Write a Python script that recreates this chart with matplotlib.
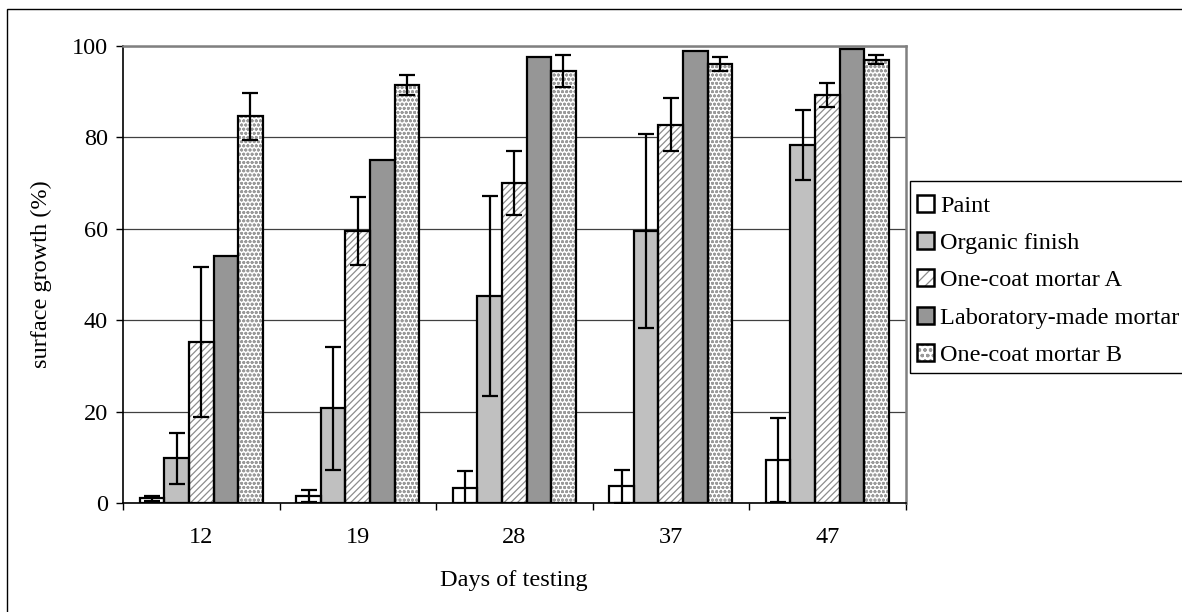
import matplotlib.pyplot as plt
import numpy as np
from matplotlib.patches import Patch, Rectangle

plt.rcParams['font.family'] = ['Liberation Serif', 'DejaVu Serif']

days = ['12', '19', '28', '37', '47']
series = ['Paint', 'Organic finish', 'One-coat mortar A',
          'Laboratory-made mortar', 'One-coat mortar B']

paint = [1.0, 1.5, 3.3, 3.7, 9.5]
paint_err = [0.5, 1.3, 3.7, 3.6, 9.2]
organic = [9.8, 20.7, 45.3, 59.5, 78.3]
organic_err = [5.6, 13.4, 21.8, 21.3, 7.7]
mortar_a = [35.2, 59.5, 70.0, 82.8, 89.3]
mortar_a_err = [16.4, 7.5, 7.0, 5.8, 2.6]
lab = [54.0, 75.0, 97.6, 99.0, 99.4]
mortar_b = [84.6, 91.5, 94.5, 96.0, 97.0]
mortar_b_err = [5.1, 2.2, 3.5, 1.5, 1.0]

values = [paint, organic, mortar_a, lab, mortar_b]
errors = [paint_err, organic_err, mortar_a_err, None, mortar_b_err]
# (face, hatch, hatch colour, hatch linewidth)
styles = [('white', None, None, 1),
          ('#c0c0c0', None, None, 1),
          ('white', '/////', '#8c8c8c', 0.9),
          ('#969696', None, None, 1),
          ('white', 'oooo', '#9a9a9a', 0.9)]

FS = 17.5

fig = plt.figure(figsize=(11.82, 6.12), dpi=100)
ax = fig.add_axes([123 / 1182, 109 / 612, 782.5 / 1182, 457 / 612])

x = np.arange(len(days))
w = 0.157
handles = []
for i, (vals, err, (fc, hatch, hc, hlw)) in enumerate(zip(values, errors, styles)):
    pos = x + (i - 2) * w
    plt.rcParams['hatch.linewidth'] = hlw
    if hatch:
        ax.bar(pos, vals, w, color=fc, edgecolor=hc, hatch=hatch, linewidth=0, zorder=2)
        fill = Patch(facecolor=fc, edgecolor=hc, hatch=hatch[:3], linewidth=0)
    else:
        ax.bar(pos, vals, w, color=fc, linewidth=0, zorder=2)
        fill = Patch(facecolor=fc, edgecolor=fc, linewidth=0)
    ax.bar(pos, vals, w, fill=False, edgecolor='black', linewidth=1.6, zorder=3)
    if err is not None:
        ax.errorbar(pos, vals, yerr=err, fmt='none', ecolor='black',
                    elinewidth=1.6, capsize=6, capthick=1.6, zorder=4)
    edge = Patch(fill=False, edgecolor='black', linewidth=1.8)
    handles.append((fill, edge))

ax.set_xlim(-0.5, 4.5)
ax.set_ylim(0, 100)
ax.set_yticks([0, 20, 40, 60, 80, 100])
ax.set_xticks(x)
ax.set_xticklabels(days)
ax.set_xticks(np.arange(-0.5, 5, 1), minor=True)
ax.tick_params(axis='x', which='major', length=0, labelsize=FS, pad=17)
ax.tick_params(axis='x', which='minor', length=5, direction='out', width=1)
ax.tick_params(axis='y', length=5, direction='out', width=1, labelsize=FS, pad=6)

ax.yaxis.grid(True, color='#404040', linewidth=0.9, zorder=0)
ax.set_axisbelow(True)
for s in ['top', 'right']:
    ax.spines[s].set_color('#808080')
    ax.spines[s].set_linewidth(1.8)
for s in ['left', 'bottom']:
    ax.spines[s].set_color('black')
    ax.spines[s].set_linewidth(1.2)

ax.set_ylabel('surface growth (%)', fontsize=FS, labelpad=14)
ax.set_xlabel('Days of testing', fontsize=FS, labelpad=16)

fig.legend(handles, series, loc='upper left',
           bbox_to_anchor=(910 / 1182, 1 - 188 / 612),
           fontsize=FS, frameon=False,
           handlelength=0.7, handleheight=0.7, handletextpad=0.25,
           labelspacing=0.62, borderpad=0.3, borderaxespad=0)

# legend frame, running past the right edge like the original
fig.patches.append(Rectangle((910 / 1182, 1 - 373 / 612), 0.3, 192 / 612,
                             transform=fig.transFigure, fill=False,
                             edgecolor='black', linewidth=1.0))

# outer chart border
fig.patches.append(Rectangle((7 / 1182, -0.01), 1.1, 1 - 9 / 612 + 0.01,
                             transform=fig.transFigure, fill=False,
                             edgecolor='black', linewidth=1.0))

fig.savefig('out.png', dpi=100)
